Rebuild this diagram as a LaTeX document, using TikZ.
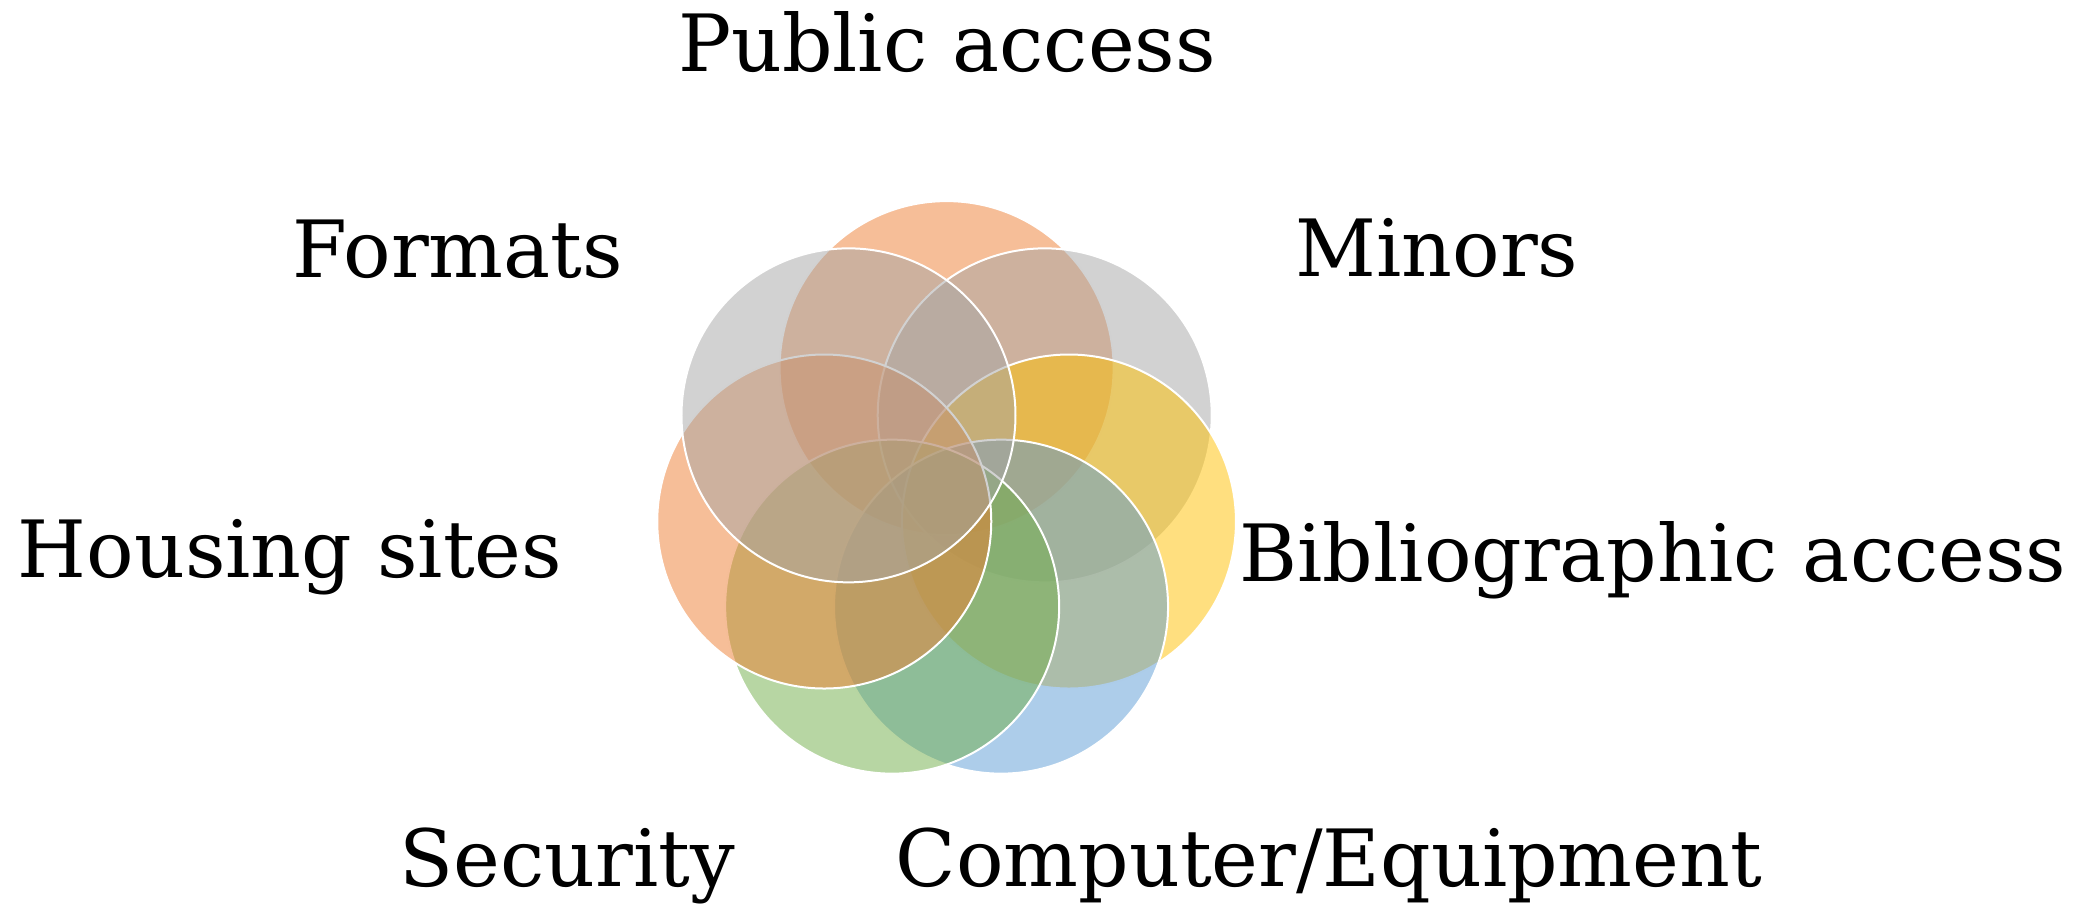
\documentclass[tikz,border=0pt]{standalone}
\usepackage{fontspec}
\setmainfont{DejaVu Serif}
\usepackage{xcolor}
\usetikzlibrary{calc}
\definecolor{vorange}{HTML}{ED7D31}
\definecolor{vgray}{HTML}{A5A5A5}
\definecolor{vgold}{HTML}{FFC000}
\definecolor{vblue}{HTML}{5B9BD5}
\definecolor{vgreen}{HTML}{70AD47}
\tikzstyle{venn} = [circle, minimum size=334pt, inner sep=0pt, draw=white, line width=2pt, fill opacity=0.5]
\tikzstyle{lbl} = [font=\fontsize{79}{90}\selectfont, inner sep=0pt, anchor=base]

\begin{document}
\begin{tikzpicture}[x=1pt,y=1pt]
\useasboundingbox (0,0) rectangle (2095,907);
\coordinate (mid) at (946.6,413.4);
% seven circles, clockwise from the top
\foreach \name/\col [count=\i from 0] in {pub/vorange,minors/vgray,biblio/vgold,comp/vblue,secur/vgreen,housing/vorange,formats/vgray}
  \node[venn, fill=\col] (\name) at ($(mid)+({90-\i*360/7}:125.5)$) {};

% labels
\node[lbl] (pubtxt) at (947,835) {Public access};
\node[lbl] (minorstxt) at (1437,630) {Minors};
\node[lbl] (bibliotxt) at (1653,325) {Bibliographic access};
\node[lbl] (comptxt) at (1329,20) {Computer/Equipment};
\node[lbl] (securtxt) at (567,20) {Security};
\node[lbl] (housingtxt) at (290,329) {Housing sites};
\node[lbl] (formatstxt) at (458,629) {Formats};
\end{tikzpicture}
\end{document}
